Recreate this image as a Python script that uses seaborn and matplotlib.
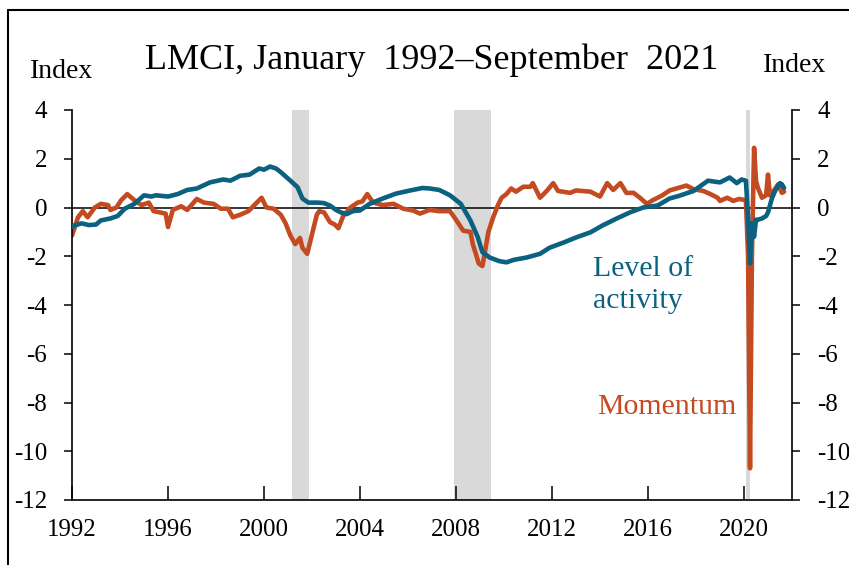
import matplotlib
matplotlib.use("Agg")
import matplotlib.pyplot as plt
from matplotlib.lines import Line2D
import pandas as pd
import seaborn as sns

# Level of activity (decimal years)
level_years = [1992.0, 1992.1, 1992.4, 1992.7, 1993.0, 1993.2, 1993.6, 1993.9, 1994.2, 1994.6,
               1995.0, 1995.3, 1995.5, 1996.0, 1996.4, 1996.8, 1997.2, 1997.75, 1998.3, 1998.6,
               1999.0, 1999.4, 1999.8, 2000.0, 2000.25, 2000.5, 2000.7, 2001.1, 2001.4, 2001.6,
               2001.85, 2002.25, 2002.5, 2002.75, 2003.0, 2003.2, 2003.45, 2003.7, 2004.0, 2004.4,
               2004.95, 2005.5, 2006.1, 2006.6, 2006.9, 2007.3, 2007.75, 2008.2, 2008.6, 2008.9,
               2009.1, 2009.4, 2009.8, 2010.1, 2010.4, 2010.95, 2011.5, 2011.9, 2012.5, 2013.0,
               2013.6, 2014.1, 2014.7, 2015.25, 2015.8, 2016.4, 2016.9, 2017.3, 2017.9, 2018.5,
               2019.0, 2019.4, 2019.7, 2019.9, 2020.08, 2020.17, 2020.25, 2020.33, 2020.42, 2020.5,
               2020.58, 2020.75, 2020.92, 2021.0, 2021.17, 2021.33, 2021.5, 2021.58, 2021.67]
level_vals = [-0.8, -0.74, -0.65, -0.72, -0.7, -0.53, -0.45, -0.35, -0.05, 0.15,
              0.5, 0.45, 0.5, 0.45, 0.55, 0.72, 0.78, 1.03, 1.15, 1.1,
              1.3, 1.35, 1.6, 1.55, 1.68, 1.6, 1.45, 1.1, 0.83, 0.37,
              0.2, 0.2, 0.18, 0.08, -0.1, -0.2, -0.27, -0.15, -0.12, 0.15,
              0.37, 0.57, 0.7, 0.8, 0.78, 0.72, 0.5, 0.15, -0.53, -1.2,
              -1.83, -2.05, -2.2, -2.25, -2.15, -2.05, -1.9, -1.65, -1.43, -1.23,
              -1.02, -0.74, -0.45, -0.2, 0.0, 0.08, 0.37, 0.48, 0.68, 1.1,
              1.03, 1.23, 1.0, 1.15, 1.1, -0.4, -2.3, -0.65, -1.2, -0.5,
              -0.5, -0.45, -0.35, -0.2, 0.4, 0.75, 1.0, 0.95, 0.8]

# Momentum
mom_years = [1992.0, 1992.25, 1992.45, 1992.65, 1992.95, 1993.2, 1993.5, 1993.6, 1993.85, 1994.05,
             1994.3, 1994.6, 1994.9, 1995.2, 1995.4, 1995.65, 1995.9, 1996.0, 1996.2, 1996.55,
             1996.8, 1997.2, 1997.5, 1997.9, 1998.2, 1998.5, 1998.7, 1999.0, 1999.35, 1999.7,
             1999.9, 2000.1, 2000.4, 2000.7, 2000.9, 2001.1, 2001.3, 2001.5, 2001.6, 2001.8,
             2002.0, 2002.2, 2002.3, 2002.5, 2002.75, 2002.95, 2003.1, 2003.3, 2003.6, 2003.9,
             2004.1, 2004.3, 2004.55, 2004.95, 2005.4, 2005.8, 2006.2, 2006.5, 2006.9, 2007.3,
             2007.75, 2008.0, 2008.3, 2008.6, 2008.7, 2008.95, 2009.1, 2009.2, 2009.35, 2009.55,
             2009.75, 2009.9, 2010.1, 2010.3, 2010.5, 2010.8, 2011.1, 2011.2, 2011.5, 2011.8,
             2012.05, 2012.25, 2012.75, 2013.0, 2013.6, 2014.0, 2014.3, 2014.55, 2014.85, 2015.1,
             2015.4, 2015.7, 2015.95, 2016.2, 2016.6, 2016.9, 2017.25, 2017.6, 2017.9, 2018.3,
             2018.6, 2018.9, 2019.0, 2019.3, 2019.55, 2019.8, 2020.08, 2020.17, 2020.25, 2020.33,
             2020.42, 2020.5, 2020.58, 2020.75, 2020.92, 2021.0, 2021.08, 2021.25, 2021.42, 2021.58,
             2021.67]
mom_vals = [-1.15, -0.4, -0.15, -0.4, 0.0, 0.15, 0.1, -0.1, 0.0, 0.3,
            0.55, 0.3, 0.1, 0.2, -0.15, -0.2, -0.25, -0.8, -0.1, 0.05,
            -0.1, 0.35, 0.2, 0.15, -0.05, -0.05, -0.4, -0.3, -0.15, 0.2,
            0.4, 0.0, -0.05, -0.3, -0.65, -1.15, -1.5, -1.25, -1.65, -1.9,
            -1.1, -0.3, -0.15, -0.2, -0.6, -0.7, -0.85, -0.35, 0.0, 0.2,
            0.25, 0.55, 0.2, 0.1, 0.15, -0.05, -0.12, -0.25, -0.1, -0.15,
            -0.15, -0.5, -0.95, -1.0, -1.5, -2.3, -2.4, -1.85, -1.0, -0.4,
            0.1, 0.4, 0.55, 0.78, 0.65, 0.85, 0.85, 1.0, 0.4, 0.7,
            1.0, 0.68, 0.6, 0.7, 0.65, 0.45, 1.0, 0.72, 1.0, 0.6,
            0.6, 0.37, 0.15, 0.3, 0.5, 0.7, 0.8, 0.9, 0.75, 0.68,
            0.55, 0.4, 0.27, 0.4, 0.27, 0.35, 0.3, -2.0, -10.7, -2.0,
            2.45, 1.1, 0.8, 0.4, 0.5, 1.35, 0.5, 0.7, 0.95, 0.6,
            0.65]

recessions = [(2001.17, 2001.88), (2007.92, 2009.46), (2020.08, 2020.25)]
year_ticks = [1992, 1996, 2000, 2004, 2008, 2012, 2016, 2020]
index_ticks = [4, 2, 0, -2, -4, -6, -8, -10, -12]

teal = "#0b6180"
orange = "#c44a21"

sns.set_style("white")
plt.rcParams["font.family"] = ["Liberation Serif", "DejaVu Serif"]
plt.rcParams["axes.unicode_minus"] = False
plt.rcParams["text.color"] = "black"
plt.rcParams["xtick.color"] = "black"
plt.rcParams["ytick.color"] = "black"

fig = plt.figure(figsize=(8.49, 5.65), dpi=100)
ax = fig.add_axes([72 / 849, 1 - 500 / 565, 720 / 849, 390 / 565])

for start, end in recessions:
    ax.axvspan(start, end, color="#d9d9d9", lw=0, zorder=0)
ax.axhline(0, color="black", lw=1.1, zorder=1)

level = pd.DataFrame({"year": level_years, "value": level_vals})
mom = pd.DataFrame({"year": mom_years, "value": mom_vals})
sns.lineplot(data=mom, x="year", y="value", color=orange, lw=3.3, ax=ax, zorder=2)
sns.lineplot(data=level, x="year", y="value", color=teal, lw=3.3, ax=ax, zorder=3)

ax.set_xlim(1992, 2022)
ax.set_ylim(-12, 4)
ax.set_xticks(year_ticks)
ax.set_yticks(index_ticks)
ax.set_xlabel("")
ax.set_ylabel("")

for side in ["left", "right", "bottom"]:
    ax.spines[side].set_visible(True)
    ax.spines[side].set_color("black")
    ax.spines[side].set_linewidth(1.2)
ax.spines["top"].set_visible(False)

ax.tick_params(axis="y", which="both", left=True, right=True, labelleft=True,
               labelright=True, direction="out", length=6, width=1.1,
               pad=12, labelsize=18, colors="black")
ax.tick_params(axis="x", bottom=True, direction="in", length=10, width=1.1,
               pad=14, labelsize=18, colors="black")

ax.text(0.5, 1.085, "LMCI, January  1992\u2013September  2021",
        transform=ax.transAxes, ha="center", va="bottom", fontsize=26, color="black")
fig.text(30 / 849, 1 - 72 / 565, "Index", ha="left", va="center", fontsize=20)
fig.text(826 / 849, 1 - 65 / 565, "Index", ha="right", va="center", fontsize=20)

ax.text(2013.7, -3.2, "Level of\nactivity", color=teal, fontsize=21.5,
        ha="left", va="center", linespacing=1.3)
ax.text(2013.9, -8.2, "Momentum", color=orange, fontsize=21.5,
        ha="left", va="center")

# frame lines seen at the top and left of the original image
fig.add_artist(Line2D([8 / 849, 8 / 849], [0, 1 - 10 / 565], color="black", lw=1.5))
fig.add_artist(Line2D([8 / 849, 1], [1 - 10 / 565, 1 - 10 / 565], color="black", lw=1.5))

fig.savefig("out.png", dpi=100)
